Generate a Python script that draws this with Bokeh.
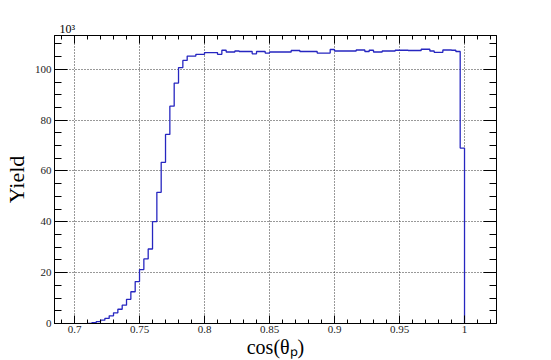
import numpy as np
from bokeh.plotting import figure
from bokeh.models import LinearAxis, FixedTicker, Range1d, Title, CustomJSTickFormatter
from bokeh.embed import file_html
from bokeh.resources import INLINE

# ---- data (yield in units of 10^3 per bin, bins of width 1/300 starting at 0.7) ----
bin_start = 0.7
bin_width = 1.0 / 300.0
yield_k = [
    0, 0, 0, 0, 0.3, 0.7, 1.3, 2.0, 3.0, 4.2,            # k 0-9
    5.6, 7.2, 9.5, 12.5, 16.5, 21.2, 25.4, 29.3, 40.1, 51.6,   # k 10-19
    63.4, 74.4, 85.5, 94.6, 100.7, 103.5, 105.2, 105.2, 105.9, 105.9,  # k 20-29
    106.6, 106.6, 106.6, 105.9, 107.5, 106.8, 106.8, 107.2, 107.0, 107.0,  # k 30-39
    107.0, 106.1, 107.0, 107.0, 106.4, 106.8, 106.8, 106.8, 106.8, 106.8,  # k 40-49
    107.4, 107.4, 107.0, 107.0, 107.0, 107.0, 106.4, 106.4, 106.4, 107.8,  # k 50-59
    107.2, 107.2, 107.2, 107.2, 107.2, 107.6, 107.6, 107.0, 107.5, 106.8,  # k 60-69
    106.8, 107.2, 107.2, 107.2, 107.5, 107.5, 107.5, 107.4, 107.4, 107.4,  # k 70-79
    107.9, 107.9, 107.2, 106.7, 106.7, 107.6, 107.6, 107.5, 107.0, 69.0,   # k 80-89
]
x_major = [0.7, 0.75, 0.8, 0.85, 0.9, 0.95, 1.0]
x_labels = ["0.7", "0.75", "0.8", "0.85", "0.9", "0.95", "1"]
y_major = [0, 20, 40, 60, 80, 100]
y_labels = ["0", "20", "40", "60", "80", "100"]
x_title = "cos(θₚ)"
y_title = "Yield"
y_multiplier = "10³"

# ---- build step line ----
n = len(yield_k)
edges = bin_start + np.arange(n + 1) * bin_width
first = 3
xs = list(edges[first:n]) + [edges[n]]
ys = list(yield_k[first:n]) + [0.0]

FONT = "'Liberation Serif', 'Times New Roman', serif"

p = figure(width=545, height=360,
           x_range=Range1d(0.6846, 1.0246), y_range=Range1d(0, 113.3),
           output_backend="svg", toolbar_location=None,
           min_border_left=54, min_border_right=49,
           min_border_top=35, min_border_bottom=36)
p.outline_line_color = "black"
p.outline_line_width = 1
p.background_fill_color = "white"
p.border_fill_color = "white"

x_minor = [round(0.69 + 0.01 * i, 2) for i in range(34)]
y_minor = [5 * i for i in range(23)]
xt = FixedTicker(ticks=x_major, minor_ticks=x_minor)
yt = FixedTicker(ticks=y_major, minor_ticks=y_minor)

LABEL_CODE = """
const i = tick_vals.findIndex(t => Math.abs(t - tick) < 1e-9);
return i >= 0 ? tick_texts[i] : '';
"""


def style_axis(ax, ticker, major_len, minor_len, show_labels, vals=None, texts=None, standoff=3):
    ax.ticker = ticker
    ax.axis_line_color = "black"
    ax.axis_line_width = 1
    ax.major_tick_in = major_len
    ax.major_tick_out = 0
    ax.minor_tick_in = minor_len
    ax.minor_tick_out = 0
    ax.major_tick_line_color = "black"
    ax.minor_tick_line_color = "black"
    ax.major_label_standoff = standoff
    if show_labels:
        ax.formatter = CustomJSTickFormatter(args=dict(tick_vals=vals, tick_texts=texts), code=LABEL_CODE)
        ax.major_label_text_font = FONT
        ax.major_label_text_font_size = "11px"
        ax.major_label_text_font_style = "normal"
        ax.major_label_text_color = "#222222"
    else:
        ax.formatter = CustomJSTickFormatter(code="return '';")
        ax.major_label_text_font_size = "0px"
        ax.major_label_standoff = 0


style_axis(p.xaxis[0], xt, 8, 4, True, x_major, x_labels, standoff=2)
style_axis(p.yaxis[0], yt, 13, 7, True, y_major, y_labels, standoff=3)

xa = p.xaxis[0]
xa.axis_label = x_title
xa.axis_label_text_font = FONT
xa.axis_label_text_font_size = "20px"
xa.axis_label_text_font_style = "normal"
xa.axis_label_text_color = "black"
xa.axis_label_standoff = 0

ya = p.yaxis[0]
ya.axis_label = y_title
ya.axis_label_text_font = FONT
ya.axis_label_text_font_size = "22px"
ya.axis_label_text_font_style = "normal"
ya.axis_label_text_color = "black"
ya.axis_label_standoff = 3

top = LinearAxis()
style_axis(top, xt, 8, 4, False)
p.add_layout(top, "above")
right = LinearAxis()
style_axis(right, yt, 13, 7, False)
p.add_layout(right, "right")

p.add_layout(Title(text=y_multiplier, align="left", offset=5, standoff=-1,
                   text_font=FONT, text_font_size="12px", text_font_style="normal",
                   text_color="black", text_line_height=0.9), "above")

p.xgrid.ticker = xt
p.ygrid.ticker = yt
for g in (p.xgrid, p.ygrid):
    g.grid_line_color = "#333333"
    g.grid_line_dash = "1 2"
    g.grid_line_width = 1

p.step(xs, ys, mode="after", line_color="#2626c0", line_width=1.3)

open("out.html", "w").write(file_html(p, INLINE))
